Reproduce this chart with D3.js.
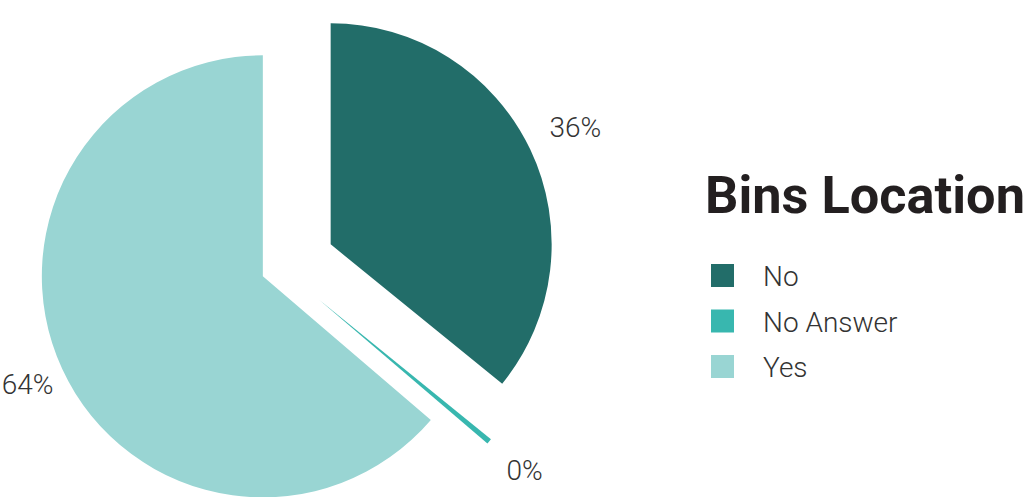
<!DOCTYPE html>
<html>
<head>
<meta charset="utf-8">
<script src="https://cdn.jsdelivr.net/npm/d3@7"></script>
<style>
  html, body { margin: 0; padding: 0; background: #ffffff; }
  svg { display: block; }
</style>
</head>
<body>
<svg id="chart" width="1027" height="497"></svg>
<script>
// Survey answers for "Bins Location" (share of respondents)
const categories = ["No", "No Answer", "Yes"];
const values = [36, 0.4, 64];
const chartTitle = "Bins Location";

// Styling
const colors = { "No": "#226d69", "No Answer": "#38b7af", "Yes": "#99d5d3" };
const explode = { "No": 55, "No Answer": 50, "Yes": 20 };
const labelGap = { "No": 50, "No Answer": 46, "Yes": 38 };

const W = 1027, H = 497;
const radius = 221;
const cx = 281, cy = 268;

const svg = d3.select("#chart");
const total = d3.sum(values);
const pct = d3.format(".0%");

const data = categories.map((c, i) => ({ name: c, value: values[i] }));
const pie = d3.pie().value(d => d.value).sort(null);
const arc = d3.arc().innerRadius(0).outerRadius(radius);
const arcs = pie(data);

const unit = a => [Math.sin(a), -Math.cos(a)];

const slices = svg.append("g")
  .attr("transform", `translate(${cx},${cy})`);

const sliceG = slices.selectAll("g.slice")
  .data(arcs)
  .join("g")
  .attr("class", "slice")
  .attr("transform", d => {
    const mid = (d.startAngle + d.endAngle) / 2;
    const [ux, uy] = unit(mid);
    const e = explode[d.data.name];
    return `translate(${ux * e},${uy * e})`;
  });

sliceG.append("path")
  .attr("d", arc)
  .attr("fill", d => colors[d.data.name]);

// Percentage labels outside each slice
sliceG.append("text")
  .attr("transform", d => {
    const mid = (d.startAngle + d.endAngle) / 2;
    const [ux, uy] = unit(mid);
    const rr = radius + labelGap[d.data.name];
    return `translate(${ux * rr},${uy * rr})`;
  })
  .attr("text-anchor", "middle")
  .attr("dominant-baseline", "central")
  .attr("font-family", "Roboto, 'Noto Sans', sans-serif")
  .attr("font-weight", 300)
  .attr("font-size", 28)
  .attr("fill", "#333333")
  .text(d => pct(d.data.value / total));

// Legend with title
const legend = svg.append("g").attr("transform", "translate(705,0)");

legend.append("text")
  .attr("x", 0)
  .attr("y", 213)
  .attr("font-family", "Roboto, 'Noto Sans', sans-serif")
  .attr("font-weight", 700)
  .attr("font-size", 52)
  .attr("fill", "#231f20")
  .attr("textLength", 320)
  .attr("lengthAdjust", "spacingAndGlyphs")
  .text(chartTitle);

const rowY = d3.scalePoint().domain(categories).range([264, 355]);

const items = legend.selectAll("g.item")
  .data(categories)
  .join("g")
  .attr("class", "item")
  .attr("transform", c => `translate(0,${rowY(c)})`);

items.append("rect")
  .attr("x", 6)
  .attr("y", 0)
  .attr("width", 23)
  .attr("height", 23)
  .attr("fill", c => colors[c]);

items.append("text")
  .attr("x", 58)
  .attr("y", 22)
  .attr("font-family", "Roboto, 'Noto Sans', sans-serif")
  .attr("font-weight", 300)
  .attr("font-size", 28)
  .attr("fill", "#333333")
  .text(c => c);
</script>
</body>
</html>
